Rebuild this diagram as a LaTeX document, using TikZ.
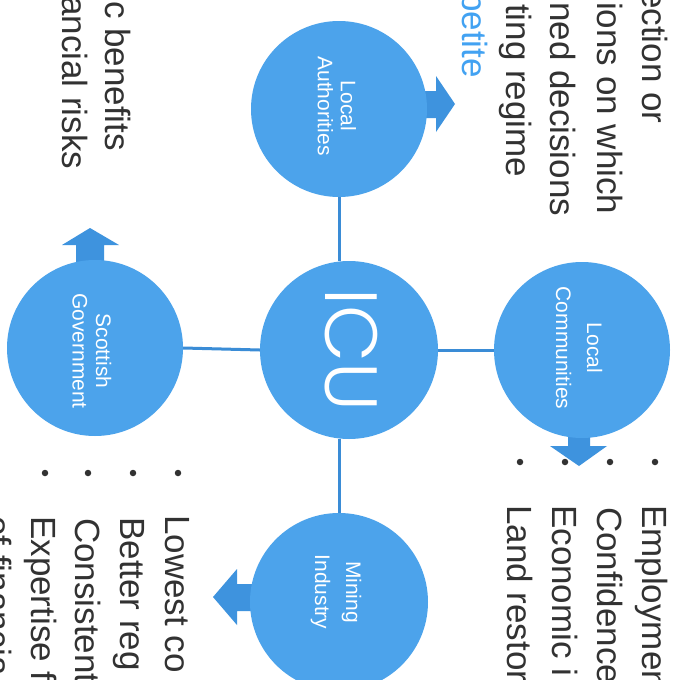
\documentclass[tikz,border=0pt]{standalone}
\usepackage{fontspec}
\setmainfont{Liberation Sans}
\newfontfamily\icufont{Poppins Light}
\definecolor{circ}{RGB}{76,163,235}
\definecolor{arr}{RGB}{62,147,222}
\definecolor{lin}{RGB}{58,140,214}
\definecolor{txt}{RGB}{50,50,50}
\definecolor{bluetxt}{RGB}{66,162,242}
\begin{document}
\begin{tikzpicture}[x=1pt,y=-1pt,
  bubble/.style={circle, fill=circ, draw=none, minimum size=176pt, inner sep=0pt},
  blabel/.style={rotate=-90, text=white, align=center, inner sep=0pt},
  conn/.style={draw=lin, line width=3pt},
  barrow/.style={fill=arr},
  body/.style={rotate=-90, anchor=base west, text=txt, font=\fontsize{35}{40}\selectfont, inner sep=0pt},
  dotmark/.style={circle, fill=txt, minimum size=6.5pt, inner sep=0pt}
]
\useasboundingbox (0,0) rectangle (678,680);
\clip (0,0) rectangle (678,680);
\fill[white] (0,0) rectangle (678,680);

% block arrows
\fill[barrow] (415,91) -- (436,91) -- (436,76) -- (455,104) -- (436,132) -- (436,118) -- (415,118) -- cycle;
\fill[barrow] (76,266) -- (76,245) -- (62,245) -- (90,228) -- (119,245) -- (104,245) -- (104,266) -- cycle;
\fill[barrow] (568,425) -- (568,446) -- (550,446) -- (579,466) -- (607,446) -- (590,446) -- (590,425) -- cycle;
\fill[barrow] (256,584) -- (237,584) -- (237,569) -- (213,597) -- (237,625) -- (237,611) -- (256,611) -- cycle;

% circles
\node[bubble, minimum size=178pt] (ICU) at (349,350) {};
\node[bubble] (LA) at (339,109) {};
\node[bubble] (SG) at (95,348) {};
\node[bubble] (LC) at (582,350) {};
\node[bubble, minimum size=178pt] (MI) at (339,602) {};

% connectors
\draw[conn] (LA.south) -- (LA.south |- ICU.north);
\draw[conn] (SG.east) -- (ICU.west);
\draw[conn] (ICU.east) -- (LC.west);
\draw[conn] (MI.north) -- (MI.north |- ICU.south);

% circle labels
\node[blabel, font=\icufont\fontsize{74}{74}\selectfont] (ICUt) at (351,350) {ICU};
\node[blabel, font=\fontsize{21}{23}\selectfont] (LAt) at (337,106) {Local\\Authorities};
\node[blabel, font=\fontsize{21}{23.5}\selectfont] (SGt) at (92,351) {Scottish\\Government};
\node[blabel, font=\fontsize{21}{31}\selectfont] (LCt) at (579,348) {Local\\Communities};
\node[blabel, font=\fontsize{21}{31}\selectfont] (MIt) at (336,592) {Mining\\Industry};

% top right text
\node[body] (tr1) at (642,-11) {ection or};
\node[body] (tr2) at (597,2) {ions on which};
\node[body] (tr3) at (550,2) {ned decisions};
\node[body] (tr4) at (506,4) {ting regime};
\node[body, text=bluetxt] (tr5) at (462,-8) {petite};

% top left text
\node[body] (tl1) at (105,1) {c benefits};
\node[body] (tl2) at (62,-4) {ancial risks};

% bottom right list
\node[body] (br1) at (642,505) {Employmen};
\node[body] (br2) at (597,507) {Confidence};
\node[body] (br3) at (552,505) {Economic i};
\node[body] (br4) at (507,505) {Land restor};
\node[dotmark] (bd1) at (655,462) {};
\node[dotmark] (bd2) at (610,462) {};
\node[dotmark] (bd3) at (565,462) {};
\node[dotmark] (bd4) at (520,462) {};

% bottom left list
\node[body] (bl1) at (165,515) {Lowest co};
\node[body] (bl2) at (120,517) {Better reg};
\node[body] (bl3) at (75.5,518) {Consistent};
\node[body] (bl4) at (31,516) {Expertise f};
\node[body] (bl5) at (-13,516) {of financia};
\node[dotmark] (ld1) at (178,473) {};
\node[dotmark] (ld2) at (133,473) {};
\node[dotmark] (ld3) at (88,473) {};
\node[dotmark] (ld4) at (45,473) {};
\end{tikzpicture}
\end{document}
